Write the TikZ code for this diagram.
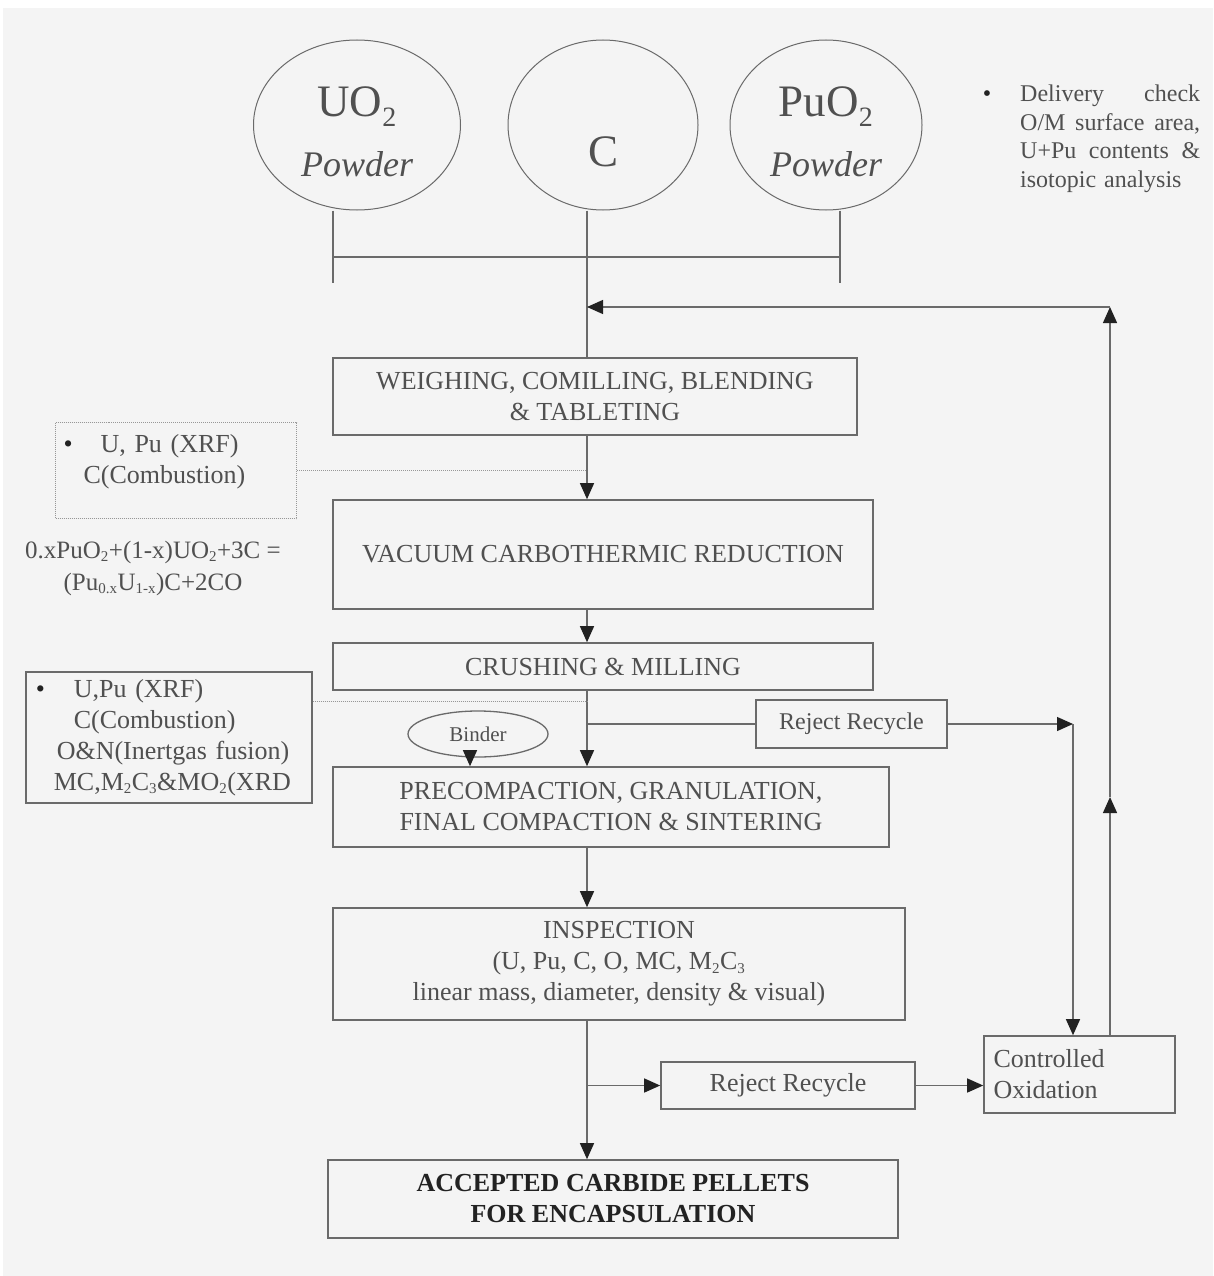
\documentclass[tikz,border=0pt]{standalone}
\usepackage{fontspec}
\setmainfont{Liberation Serif}
\usepackage{tikz}
\usetikzlibrary{arrows.meta}
\usetikzlibrary{shapes, positioning}
\definecolor{pozadina}{HTML}{F4F4F4}
\definecolor{linija}{HTML}{6A6A6A}
\definecolor{tekst}{HTML}{505050}
\definecolor{crna}{HTML}{222222}
\tikzset{
	proces/.style={draw=linija, line width=1.6pt, rectangle, inner sep=0pt, align=center, text=tekst, font=\fontsize{26}{31}\selectfont},
	prah/.style={draw=linija, line width=1pt, ellipse, inner sep=0pt, align=center, text=tekst, font=\fontsize{45}{60}\selectfont},
	tok/.style={draw=linija, line width=1.3pt, -{Triangle[length=16pt,width=14pt,color=crna]}},
	veza/.style={draw=linija, line width=1.3pt},
	tockice/.style={draw=linija!70, line width=1pt, densely dotted},
	biljeska/.style={text=tekst, align=left, inner sep=0pt, font=\fontsize{26}{31}\selectfont}
}
\newcommand{\ind}[1]{\textsubscript{\fontsize{15}{15}\selectfont #1}}

\begin{document}
\begin{tikzpicture}[x=1pt, y=-1pt]
	%pozadina
	\useasboundingbox (0,0) rectangle (1213,1276);
	\fill[white] (0,0) rectangle (1213,1276);
	\fill[pozadina] (3,8) rectangle (1213,1276);

	%prahovi
	\node[prah, minimum width=207pt, minimum height=170pt] (uo) at (357,125)
	{\rule{0pt}{43pt}UO{\fontsize{40}{40}\selectfont\textsubscript{2}}\\{\fontsize{36}{40}\selectfont\itshape Powder}};
	\node[prah, minimum width=190pt, minimum height=170pt] (c) at (603,125)
	{\rule{0pt}{84pt}C};
	\node[prah, minimum width=192pt, minimum height=170pt] (pu) at (826,125)
	{\rule{0pt}{43pt}PuO{\fontsize{40}{40}\selectfont\textsubscript{2}}\\{\fontsize{36}{40}\selectfont\itshape Powder}};

	\node[text=crna, font=\fontsize{24}{28.5}\selectfont, inner sep=0pt] (tb) at (987,96) {\textbullet};
	\node[biljeska, font=\fontsize{24}{28.5}\selectfont, text width=180pt, anchor=north west] (dc) at (1020,85)
	{Delivery\hfill check\\O/M\hfill surface\hfill area,\\U+Pu\hfill contents\hfill \&\\isotopic analysis};

	%postupak
	\node[proces, minimum width=524pt, minimum height=77pt] (vag) at (595,396.5)
	{WEIGHING, COMILLING, BLENDING\\\& TABLETING};
	\node[proces, minimum width=540pt, minimum height=109pt] (red) at (603,554.5)
	{VACUUM CARBOTHERMIC REDUCTION};
	\node[proces, minimum width=540pt, minimum height=47pt] (mlj) at (603,666.5)
	{CRUSHING \& MILLING};
	\node[proces, minimum width=556pt, minimum height=80pt] (sin) at (611,807)
	{PRECOMPACTION, GRANULATION,\\FINAL COMPACTION \& SINTERING};
	\node[proces, minimum width=572pt, minimum height=112pt] (ins) at (619,964)
	{INSPECTION\\(U, Pu, C, O, MC, M\ind{2}C\ind{3}\\linear mass, diameter, density \& visual)};
	\node[proces, minimum width=570pt, minimum height=78pt, text=crna, font=\fontsize{26}{31}\selectfont\bfseries] (got) at (613,1199)
	{ACCEPTED CARBIDE PELLETS\\FOR ENCAPSULATION};

	\node[prah, line width=1.3pt, font=\fontsize{21}{25}\selectfont, minimum width=140pt, minimum height=46pt] (bin) at (478,734) {Binder};
	\node[proces, font=\fontsize{24}{28}\selectfont, minimum width=191pt, minimum height=48pt] (rr1) at (851.5,724) {Reject Recycle};
	\node[proces, minimum width=254pt, minimum height=47pt] (rr2) at (788,1085.5) {Reject Recycle};
	\node[proces, align=left, text width=172pt, inner xsep=9.5pt, minimum height=77pt] (ox) at (1079.5,1074.5)
	{Controlled\\Oxidation};

	%kontrola
	\node[biljeska, tockice, draw, rectangle, anchor=north west, text width=225pt, inner xsep=8pt, minimum height=96pt] (qc1) at (55,422)
	{{\color{crna}\textbullet}\hspace*{28pt}U, Pu (XRF)\\\hspace*{20pt}C(Combustion)\\[-8pt]\mbox{}};
	\node[biljeska, align=center, font=\fontsize{25}{32}\selectfont] (rx) at (153,568)
	{0.xPuO\ind{2}+(1-x)UO\ind{2}+3C =\\(Pu\ind{0.x}U\ind{1-x})C+2CO};
	\node[biljeska, draw=linija, line width=1.6pt, rectangle, anchor=west, text width=266pt, inner xsep=10pt, minimum height=131pt] (qc2) at (25,737.5)
	{{\color{crna}\textbullet}\hspace*{29pt}U,Pu (XRF)\\\hspace*{38pt}C(Combustion)\\\hspace*{21pt}O\&N(Inertgas fusion)\\\hspace*{18pt}MC,M\ind{2}C\ind{3}\&MO\ind{2}(XRD};

	%veze
	\coordinate (os) at (587,307);
	\coordinate (l1) at (333,283);
	\coordinate (l3) at (840,283);
	\coordinate (h) at (0,257);
	\draw[veza] (uo.south -| l1) -- (l1);
	\draw[veza] (pu.south -| l3) -- (l3);
	\draw[veza] (l1 |- h) -- (l3 |- h);
	\draw[veza] (c.south -| os) -- (vag.north -| os);

	\draw[tok] (vag.south -| os) -- (red.north -| os);
	\draw[tok] (red.south -| os) -- (mlj.north -| os);
	\draw[tok] (mlj.south -| os) -- (sin.north -| os);
	\draw[tok] (sin.south -| os) -- (ins.north -| os);
	\draw[tok] (ins.south -| os) -- (got.north -| os);
	\draw[tok] ([xshift=-8pt]bin.south) -- ([xshift=-8pt]bin.south |- sin.north);

	\draw[tockice] (qc1.east) -- (qc1.east -| os);
	\draw[tockice] ([yshift=-30pt]qc2.north east) -- ([yshift=-30pt]qc2.north east -| os);

	%povrat
	\coordinate (d1) at (1073,724);
	\coordinate (g1) at (1110,307);
	\coordinate (g2) at (1110,797);
	\draw[veza] (rr1.west -| os) -- (rr1.west);
	\draw[tok] (rr1.east) -- (d1);
	\draw[tok] (d1) -- (ox.north -| d1);
	\draw[tok] (rr2.west -| os) -- (rr2.west);
	\draw[tok] (rr2.east) -- (rr2.east -| ox.west);
	\draw[tok] (ox.north -| g1) -- (g2);
	\draw[tok] (g2) -- (g1);
	\draw[tok] (g1) -- (os);
\end{tikzpicture}
\end{document}
